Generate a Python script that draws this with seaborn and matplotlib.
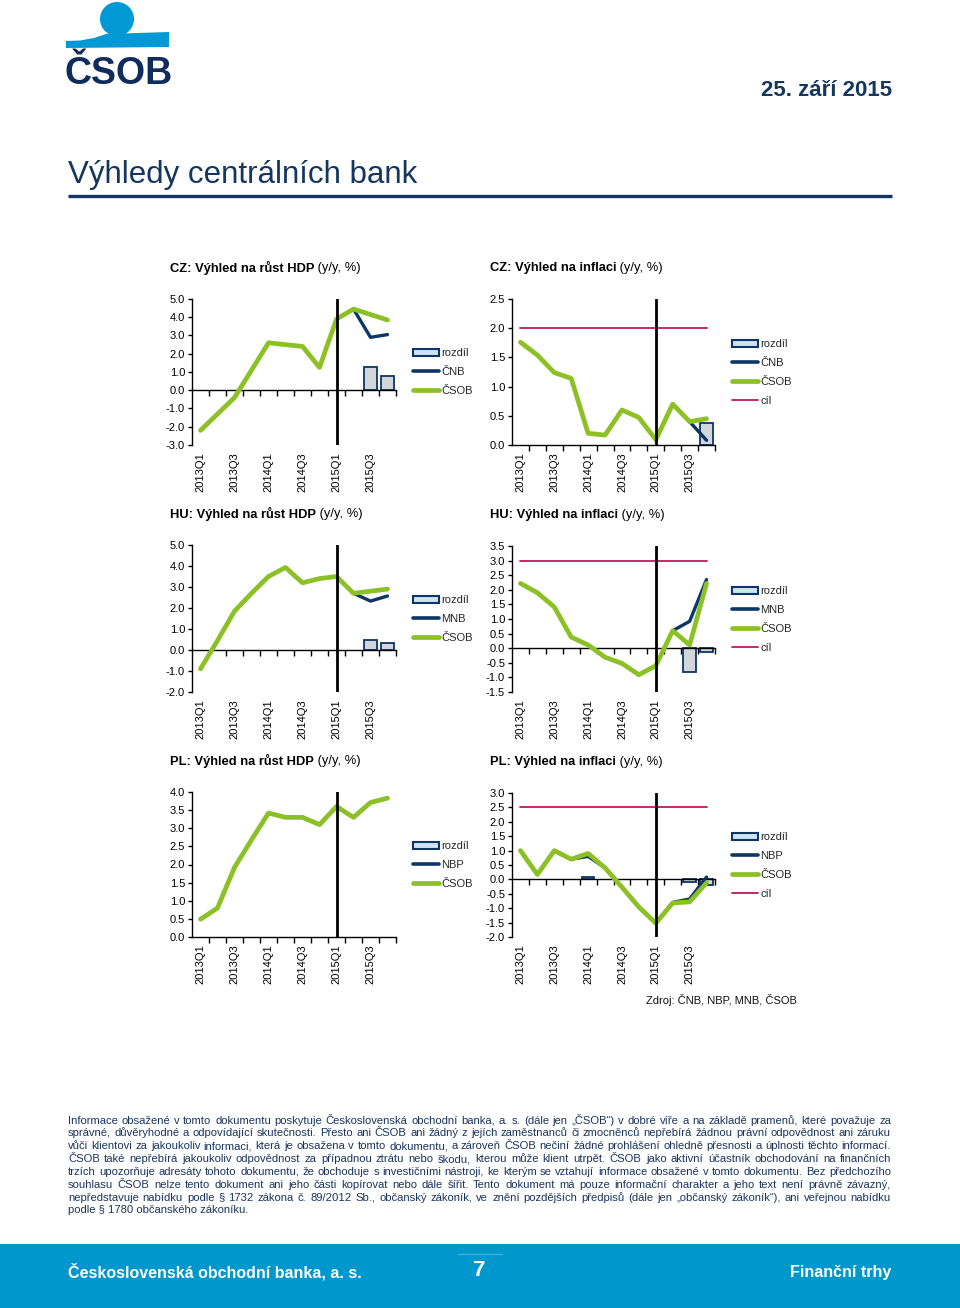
import matplotlib
matplotlib.use("Agg")
import numpy as np
import pandas as pd
import matplotlib.pyplot as plt
import seaborn as sns
from matplotlib.patches import Rectangle, Circle, Polygon, Patch
from matplotlib.lines import Line2D
from matplotlib.ticker import FormatStrFormatter, FixedLocator

# data
nan = np.nan
quarters = ["2013Q1", "2013Q2", "2013Q3", "2013Q4",
            "2014Q1", "2014Q2", "2014Q3", "2014Q4",
            "2015Q1", "2015Q2", "2015Q3", "2015Q4"]

cz_gdp_csob = [-2.2, -1.3, -0.4, 1.1, 2.6, 2.5, 2.4, 1.25, 3.9, 4.45, 4.15, 3.85]
cz_gdp_cnb = [nan] * 9 + [4.45, 2.9, 3.05]
cz_gdp_rozdil = [nan] * 10 + [1.25, 0.8]

cz_cpi_csob = [1.76, 1.54, 1.24, 1.14, 0.2, 0.17, 0.6, 0.47, 0.09, 0.7, 0.4, 0.45]
cz_cpi_cnb = [nan] * 10 + [0.4, 0.08]
cz_cpi_rozdil = [nan] * 11 + [0.37]
cz_cpi_cil = [2.0] * 12

hu_gdp_csob = [-0.9, 0.45, 1.85, 2.7, 3.5, 3.93, 3.2, 3.4, 3.5, 2.7, 2.8, 2.9]
hu_gdp_mnb = [nan] * 9 + [2.7, 2.33, 2.57]
hu_gdp_rozdil = [nan] * 10 + [0.5, 0.35]

hu_cpi_csob = [2.22, 1.9, 1.41, 0.38, 0.11, -0.31, -0.52, -0.91, -0.6, 0.6, 0.11, 2.22]
hu_cpi_mnb = [nan] * 9 + [0.6, 0.92, 2.35]
hu_cpi_rozdil = [nan] * 10 + [-0.8, -0.13]
hu_cpi_cil = [3.0] * 12

pl_gdp_csob = [0.49, 0.8, 1.92, 2.68, 3.42, 3.3, 3.3, 3.1, 3.6, 3.3, 3.71, 3.83]
pl_gdp_nbp = [0.49, 0.8, 1.92, 2.68, 3.42, 3.3, 3.3, 3.1, 3.6, 3.3, 3.71, 3.83]
pl_gdp_rozdil = [nan] * 12

pl_cpi_csob = [1.0, 0.17, 1.0, 0.7, 0.9, 0.4, -0.27, -0.96, -1.52, -0.82, -0.78, -0.12]
pl_cpi_nbp = [1.0, 0.17, 1.0, 0.7, 0.8, 0.4, -0.27, -0.96, -1.52, -0.8, -0.68, 0.08]
pl_cpi_rozdil = [nan, nan, nan, nan, 0.1, nan, nan, nan, nan, nan, -0.1, -0.2]
pl_cpi_cil = [2.5] * 12

disclaimer = [
    "Informace obsažené v tomto dokumentu poskytuje Československá obchodní banka, a. s. (dále jen „ČSOB“) v dobré víře a na základě pramenů, které považuje za",
    "správné, důvěryhodné a odpovídající skutečnosti. Přesto ani ČSOB ani žádný z jejích zaměstnanců či zmocněnců nepřebírá žádnou právní odpovědnost ani záruku",
    "vůči klientovi za jakoukoliv informaci, která je obsažena v tomto dokumentu, a zároveň ČSOB nečiní žádné prohlášení ohledně přesnosti a úplnosti těchto informací.",
    "ČSOB také nepřebírá jakoukoliv odpovědnost za případnou ztrátu nebo škodu, kterou může klient utrpět. ČSOB jako aktivní účastník obchodování na finančních",
    "trzích upozorňuje adresáty tohoto dokumentu, že obchoduje s investičními nástroji, ke kterým se vztahují informace obsažené v tomto dokumentu. Bez předchozího",
    "souhlasu ČSOB nelze tento dokument ani jeho části kopírovat nebo dále šířit. Tento dokument má pouze informační charakter a jeho text není právně závazný,",
    "nepředstavuje nabídku podle § 1732 zákona č. 89/2012 Sb., občanský zákoník, ve znění pozdějších předpisů (dále jen „občanský zákoník“), ani veřejnou nabídku",
    "podle § 1780 občanského zákoníku.",
]

# colours
NAVY = "#14365f"
CB_LINE = "#0d3566"
GREEN = "#8cc125"
CIL = "#c2185b"
BAR_GREY = "#d3d6da"
LEG_BLUE = "#cfe3f5"
LOGO_BLUE = "#0099d6"
BAND = "#0098cc"

W, H = 960, 1308

sns.set_style("white")
plt.rcParams["font.family"] = ["Liberation Sans", "DejaVu Sans"]

fig = plt.figure(figsize=(W / 100, H / 100), dpi=100)

# background axes in pixel coordinates
bg = fig.add_axes([0, 0, 1, 1])
bg.set_xlim(0, W)
bg.set_ylim(H, 0)
bg.axis("off")
renderer = fig.canvas.get_renderer()

# logo
bg.add_patch(Circle((117, 19), 17, color=LOGO_BLUE, lw=0))
bg.add_patch(Polygon([(66, 41), (80, 40.5), (94, 38), (106, 34), (169, 32),
                      (169, 47), (66, 48)], closed=True, color=LOGO_BLUE, lw=0))
bg.text(64, 84, "ČSOB", fontsize=27, weight="bold", color="#0f2c5a", va="baseline")

# header
bg.text(892, 96, "25. září 2015", fontsize=16, weight="bold", color=NAVY,
        ha="right", va="baseline")
bg.text(68, 183, "Výhledy centrálních bank", fontsize=22.5, color=NAVY,
        va="baseline")
bg.plot([68, 892], [196, 196], color=NAVY, lw=2.4, solid_capstyle="butt")


def px_axes(l, t, r, b):
    return fig.add_axes([l / W, 1 - b / H, (r - l) / W, (b - t) / H])


def title_text(x, y, bold, rest):
    t = bg.text(x, y, bold, fontsize=9.3, weight="bold", va="center", color="black")
    w = t.get_window_extent(renderer).width
    bg.text(x + w, y, rest, fontsize=9.3, va="center", color="black")


def draw_panel(rect, title, csob, cb, cb_name, rozdil, cil, yticks, leg_xy):
    ax = px_axes(*rect)
    df = pd.DataFrame({"pos": np.arange(len(quarters)), "quarter": quarters,
                       "csob": csob, "cb": cb, "rozdil": rozdil})
    bars = df.dropna(subset=["rozdil"])
    if len(bars):
        sns.barplot(data=bars, x="pos", y="rozdil", native_scale=True, width=0.75,
                    color=BAR_GREY, saturation=1, edgecolor=CB_LINE, linewidth=1.3,
                    errorbar=None, ax=ax, zorder=2)
    cbd = df.dropna(subset=["cb"])
    sns.lineplot(data=cbd, x="pos", y="cb", color=CB_LINE, linewidth=2.4,
                 errorbar=None, ax=ax, zorder=3)
    sns.lineplot(data=df, x="pos", y="csob", color=GREEN, linewidth=3.4,
                 errorbar=None, ax=ax, zorder=4)
    if cil is not None:
        df["cil"] = cil
        sns.lineplot(data=df, x="pos", y="cil", color=CIL, linewidth=1.3,
                     errorbar=None, ax=ax, zorder=4)
    ax.axvline(quarters.index("2015Q1"), color="black", lw=2.0, zorder=5)

    ax.set_xlim(-0.5, len(quarters) - 0.5)
    ax.set_ylim(yticks[0], yticks[-1])
    ax.set_yticks(yticks)
    ax.yaxis.set_major_formatter(FormatStrFormatter("%.1f"))
    ax.set_xticks(range(0, len(quarters), 2))
    ax.set_xticklabels(quarters[::2])
    ax.xaxis.set_minor_locator(FixedLocator(np.arange(0.5, len(quarters), 1)))
    ax.set_xlabel("")
    ax.set_ylabel("")

    ax.set_facecolor("none")
    for s in ["right", "bottom"]:
        ax.spines[s].set_visible(False)
    ax.spines["top"].set_position(("data", 0))
    ax.spines["top"].set_color("black")
    ax.spines["top"].set_linewidth(1.0)
    ax.spines["left"].set_color("black")
    ax.spines["left"].set_linewidth(1.0)
    ax.tick_params(axis="x", which="major", bottom=True, top=False, length=0,
                   pad=5, labelsize=8, labelcolor="black", labelrotation=90)
    ax.tick_params(axis="x", which="minor", bottom=False, top=True, direction="in",
                   length=4, width=1, color="black")
    ax.tick_params(axis="y", left=True, direction="out", length=3, width=1,
                   pad=2, labelsize=8, labelcolor="black", color="black")

    handles = [Patch(facecolor=LEG_BLUE, edgecolor=CB_LINE, linewidth=1.5, label="rozdíl"),
               Line2D([], [], color=CB_LINE, lw=2.6, label=cb_name),
               Line2D([], [], color=GREEN, lw=3.4, label="ČSOB")]
    if cil is not None:
        handles.append(Line2D([], [], color=CIL, lw=1.3, label="cíl"))
    ax.legend(handles=handles, loc="upper left",
              bbox_to_anchor=(leg_xy[0] / W, 1 - leg_xy[1] / H),
              bbox_transform=fig.transFigure, frameon=False, fontsize=8,
              handlelength=2.3, handletextpad=0.25, labelspacing=0.8,
              borderpad=0, borderaxespad=0, handleheight=0.6)

    tx, ty = rect[0] - 22, rect[1] - 31
    bold, rest = title
    title_text(tx, ty, bold, rest)
    return ax


yt = lambda a, b, s: list(np.round(np.arange(a, b + s / 2, s), 2))

draw_panel((192, 299, 396, 445), ("CZ: Výhled na růst HDP", " (y/y, %)"),
           cz_gdp_csob, cz_gdp_cnb, "ČNB", cz_gdp_rozdil, None, yt(-3, 5, 1), (413, 348))
draw_panel((512, 299, 715, 445), ("CZ: Výhled na inflaci", " (y/y, %)"),
           cz_cpi_csob, cz_cpi_cnb, "ČNB", cz_cpi_rozdil, cz_cpi_cil, yt(0, 2.5, 0.5), (732, 339))
draw_panel((192, 545, 396, 692), ("HU: Výhled na růst HDP", " (y/y, %)"),
           hu_gdp_csob, hu_gdp_mnb, "MNB", hu_gdp_rozdil, None, yt(-2, 5, 1), (413, 595))
draw_panel((512, 546, 715, 692), ("HU: Výhled na inflaci", " (y/y, %)"),
           hu_cpi_csob, hu_cpi_mnb, "MNB", hu_cpi_rozdil, hu_cpi_cil, yt(-1.5, 3.5, 0.5), (732, 586))
draw_panel((192, 792, 396, 937), ("PL: Výhled na růst HDP", " (y/y, %)"),
           pl_gdp_csob, pl_gdp_nbp, "NBP", pl_gdp_rozdil, None, yt(0, 4, 0.5), (413, 841))
draw_panel((512, 793, 715, 937), ("PL: Výhled na inflaci", " (y/y, %)"),
           pl_cpi_csob, pl_cpi_nbp, "NBP", pl_cpi_rozdil, pl_cpi_cil, yt(-2, 3, 0.5), (732, 832))

bg.text(797, 1000, "Zdroj: ČNB, NBP, MNB, ČSOB", fontsize=8, ha="right", va="center",
        color="#111111")

# disclaimer, justified line by line; font size fitted to the fullest line
x0, x1 = 68, 891
probe = bg.text(0, 0, disclaimer[2], fontsize=8)
dfs = 8 * (x1 - x0) / probe.get_window_extent(renderer).width
probe.remove()
for i, line in enumerate(disclaimer):
    y = 1123.5 + i * 12.85
    kw = dict(fontsize=dfs, color="#1a3560", va="baseline")
    if i == len(disclaimer) - 1:
        bg.text(x0, y, line, **kw)
        continue
    words = line.split(" ")
    arts = [bg.text(0, y, w, **kw) for w in words]
    widths = [a.get_window_extent(renderer).width for a in arts]
    gap = (x1 - x0 - sum(widths)) / (len(words) - 1)
    x = x0
    for a, w in zip(arts, widths):
        a.set_x(x)
        x += w + gap

# footer band
bg.add_patch(Rectangle((0, 1244), W, H - 1244, color=BAND, lw=0))
bg.plot([458, 502], [1254, 1254], color="#3db0dc", lw=1)
bg.text(68, 1277, "Československá obchodní banka, a. s.", fontsize=11.5, weight="bold",
        color="white", va="baseline")
bg.text(479, 1276, "7", fontsize=16, weight="bold", color="white", ha="center",
        va="baseline")
bg.text(891, 1277, "Finanční trhy", fontsize=11.5, weight="bold", color="white",
        ha="right", va="baseline")

fig.savefig("out.png", dpi=100)
